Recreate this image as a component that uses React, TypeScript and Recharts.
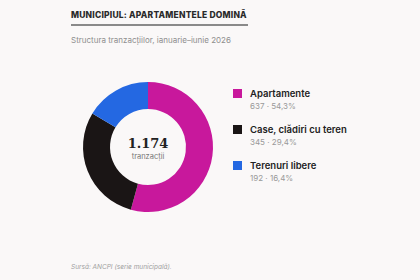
import { PieChart, Pie, Cell } from 'recharts'

// ─── Data ─────────────────────────────────────────────────────────────────────

const categories = ['Apartamente', 'Case, clădiri cu teren', 'Terenuri libere']
const counts = [637, 345, 192]
const colors = ['#c8189c', '#1a1515', '#2468e2']

const total = counts.reduce((s, v) => s + v, 0)
const data = categories.map((name, i) => ({ name, value: counts[i] }))

const fmtInt = (v: number) => v.toLocaleString('de-DE')
const fmtPct = (v: number) => ((v / total) * 100).toFixed(1).replace('.', ',') + '%'

const FONT = 'Inter, "Noto Sans", sans-serif'

// ─── Legend ───────────────────────────────────────────────────────────────────

function SideLegend() {
  return (
    <div style={{ fontFamily: FONT }}>
      {data.map((d, i) => (
        <div key={d.name} style={{ display: 'flex', alignItems: 'flex-start', marginBottom: 11 }}>
          <span
            style={{
              width: 9,
              height: 9,
              background: colors[i],
              marginTop: 2,
              marginRight: 8,
              flexShrink: 0,
            }}
          />
          <div>
            <div style={{ fontSize: 9.5, fontWeight: 600, color: '#222', lineHeight: '13px' }}>{d.name}</div>
            <div style={{ fontSize: 8, color: '#999', lineHeight: '11px', marginTop: 1 }}>
              {fmtInt(d.value)} · {fmtPct(d.value)}
            </div>
          </div>
        </div>
      ))}
    </div>
  )
}

// ─── Component ────────────────────────────────────────────────────────────────

export default function App() {
  return (
    <div
      style={{
        position: 'fixed',
        left: 0,
        top: 0,
        width: 420,
        height: 280,
        background: '#faf8f8',
        fontFamily: FONT,
      }}
    >
      <div
        style={{
          position: 'absolute',
          left: 71,
          top: 10,
          fontSize: 8.5,
          fontWeight: 800,
          letterSpacing: 0.2,
          color: '#2a2a2a',
        }}
      >
        MUNICIPIUL: APARTAMENTELE DOMINĂ
      </div>
      <div style={{ position: 'absolute', left: 71, top: 24, width: 177, height: 2, background: '#8a8a8a' }} />
      <div style={{ position: 'absolute', left: 71, top: 35, fontSize: 8, color: '#8e8e8e' }}>
        Structura tranzacțiilor, ianuarie–iunie 2026
      </div>

      <div style={{ position: 'absolute', left: 0, top: 0 }}>
        <PieChart width={420} height={280} margin={{ top: 0, right: 0, bottom: 0, left: 0 }}>
          <Pie
            data={data}
            dataKey="value"
            nameKey="name"
            cx={148}
            cy={147}
            innerRadius={38}
            outerRadius={65}
            startAngle={90}
            endAngle={-270}
            stroke="none"
            isAnimationActive={false}
          >
            {data.map((d, i) => (
              <Cell key={d.name} fill={colors[i]} />
            ))}
          </Pie>
          <text
            x={148}
            y={148}
            textAnchor="middle"
            style={{ fontFamily: 'Georgia, "DejaVu Serif", serif', fontSize: 13, fontWeight: 700, fill: '#222' }}
          >
            {fmtInt(total)}
          </text>
          <text x={148} y={159} textAnchor="middle" style={{ fontFamily: FONT, fontSize: 7.5, fill: '#777' }}>
            tranzacții
          </text>
        </PieChart>
      </div>

      <div style={{ position: 'absolute', left: 233, top: 87, width: 170 }}>
        <SideLegend />
      </div>

      <div
        style={{
          position: 'absolute',
          left: 71,
          top: 263,
          fontSize: 6.5,
          fontStyle: 'italic',
          color: '#a0a0a0',
        }}
      >
        Sursă: ANCPI (serie municipală).
      </div>
    </div>
  )
}
